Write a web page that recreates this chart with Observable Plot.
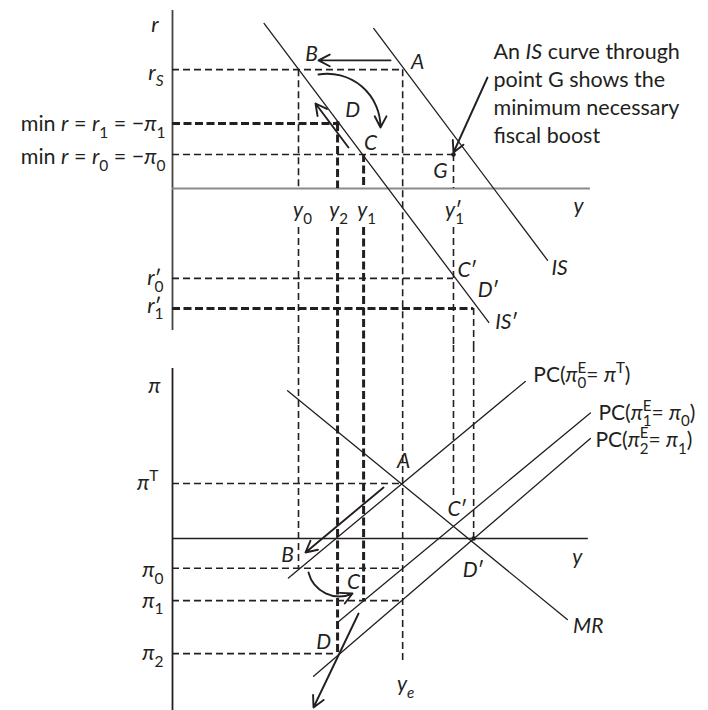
<!DOCTYPE html>
<html>
<head>
<meta charset="utf-8">
<script src="https://cdn.jsdelivr.net/npm/d3@7"></script>
<script src="https://cdn.jsdelivr.net/npm/@observablehq/plot@0.6"></script>
<style>
  body { margin: 0; background: #fff; }
  #chart { width: 708px; }
  #chart svg { display: block; }
</style>
</head>
<body>
<div id="chart"></div>
<script>
// ---- Output levels on the shared horizontal (y) axis ----
const y0 = 3.00, y2 = 3.93, y1 = 4.55, ye = 5.48, y1p = 6.69, yDp = 7.17;

// ---- Real interest rates (IS–MR top panel) ----
const rS = 2.83, r1 = 1.55, r0 = 0.81, r0p = -2.14, r1p = -2.86;

// ---- Inflation rates (PC–MR bottom panel) ----
const piT = 1.31, pi0 = -0.71, pi1 = -1.48, pi2 = -2.74, piC = 0.37;

// ---- Curves: end points of each straight line ----
const IS  = [[4.79, 3.81], [8.93, -1.71]];
const ISp = [[2.18, 3.93], [7.53, -3.19]];
const MR  = [[2.74, 3.52], [9.40, -1.93]];
const PC0 = [[2.76, -0.94], [8.40, 3.74]];
const PC1 = [[3.95, -1.98], [9.95, 2.99]];
const PC2 = [[3.36, -3.28], [9.95, 2.38]];

// ---- Adjustment arrows ----
const topArrows = [[5.19, 3.05, 3.476, 3.05], [4.19, 0.976, 3.405, 2.024], [7.50, 2.643, 6.69, 0.857]];
const topCurved = [[3.476, 2.714, 4.952, 1.452]];
const botArrows = [[5.024, 1.214, 3.167, -0.333], [4.43, -1.786, 3.357, -4.024]];
const botCurved = [[3.238, -0.81, 4.286, -1.31]];

// ---- Text ----
const note = ["An *IS* curve through", "point G shows the", "minimum necessary", "fiscal boost"];
const pcLabels = ["PC(*π*_{0}~{E}= *π*^{T})", "PC(*π*_{1}~{E}= *π*_{0})", "PC(*π*_{2}~{E}= *π*_{1})"];

// ---------------------------------------------------------------
const ink = "#231f20";
const W = 708, PX = 42, X0 = 172;          // 42 px per model unit, axes at x = 172
const topH = 345, topZero = 188;            // top panel height, r = 0 position
const botH = 365, botZero = 193;            // bottom panel height, π = 0 position
const topDom = [(topZero - topH) / PX, topZero / PX];
const botDom = [(botZero - botH) / PX, botZero / PX];
const gap = 39 / PX;                        // room under the axis for the y labels
const font = "Lato, 'Noto Sans', 'DejaVu Sans', sans-serif";

const thin = {stroke: ink, strokeWidth: 1.6, strokeDasharray: "7,4"};
const thick = {stroke: ink, strokeWidth: 3, strokeDasharray: "8,3.5"};
const solid = {stroke: ink, strokeWidth: 1.3};
const arrowStyle = {stroke: ink, strokeWidth: 1.9, headLength: 10, headAngle: 55};

const hRule = (data, style) => Plot.ruleY(data, {y: d => d[0], x1: d => d[2] ?? 0, x2: d => d[1], ...style});
const vRule = (data, style) => Plot.ruleX(data, {x: d => d[0], y1: d => d[1], y2: d => d[2], ...style});
const arrows = (data, bend) => Plot.arrow(data, {x1: d => d[0], y1: d => d[1], x2: d => d[2], y2: d => d[3], bend, ...arrowStyle});
const off = (v, px) => v + px / PX;          // shift a value by a pixel offset
const label = (data, opts) => Plot.text(data, {x: d => off(d[1], d[3] ?? 0), y: d => off(d[2], -(d[4] ?? 0)), text: d => d[0], fill: ink, ...opts});

const base = {
  width: W, marginLeft: X0, marginRight: W - X0 - 10 * PX, marginTop: 0, marginBottom: 0,
  x: {domain: [0, 10], axis: null},
  style: {fontFamily: font, color: ink, background: "#fff", overflow: "visible"}
};

// ---------------- Top panel: IS curves and interest rates ----------------
const topPanel = Plot.plot({
  ...base, height: topH,
  y: {domain: topDom, axis: null},
  marks: [
    // axes
    Plot.ruleX([0], {y1: () => -3.38, y2: () => 4.24, stroke: "#444", strokeWidth: 1.8}),
    Plot.ruleY([0], {x1: () => 0, x2: () => 9.95, stroke: "#8a8a8a", strokeWidth: 2}),
    // guide lines
    hRule([[rS, ye], [r0, y1p], [r0p, y1p]], thin),
    hRule([[r1, y2], [r1p, yDp]], thick),
    vRule([[y0, rS, 0], [y0, -gap, topDom[0]], [ye, rS, topDom[0]], [y1p, r0, 0], [y1p, -gap, topDom[0]], [yDp, r1p, topDom[0]]], thin),
    vRule([[y2, r1, 0], [y2, -gap, topDom[0]], [y1, r0, 0], [y1, -gap, topDom[0]]], thick),
    // curves
    Plot.line(IS, solid),
    Plot.line(ISp, solid),
    Plot.dot([[y1p, r0], [y2, r1]], {r: 2.3, fill: ink}),
    // arrows
    arrows(topArrows, 0),
    arrows(topCurved, 50),
    // left-hand labels
    label([["*r*", 0, 3.9, -14], ["*r*_{*S*}", 0, rS, -9, 3],
           ["min *r* = *r*_{1} = −*π*_{1}", 0, r1, -7, 1], ["min *r* = *r*_{0} = −*π*_{0}", 0, r0, -7, 3],
           ["*r*_{0}~{′}", 0, r0p, -9, 0], ["*r*_{1}~{′}", 0, r1p, -9, -3]],
          {textAnchor: "end", fontSize: 21.5}),
    // point and curve labels
    label([["*B*", y0, rS, 13, -15], ["*A*", ye, rS, 15, -7], ["*D*", y2, r1, 15, -13], ["*C*", y1, r0, 7, -11],
           ["*G*", y1p, r0, -13, 17], ["*C*′", y1p, r0p, 14, -8], ["*D*′", yDp, r1p, 15, -18],
           ["*y*_{0}", y0, 0, 4, 22], ["*y*_{2}", y2, 0, 1, 22], ["*y*_{1}", y1, 0, 3, 22], ["*y*_{1}~{′}", y1p, 0, 1, 22],
           ["*y*", 9.67, 0, 0, 18], ["*IS*", IS[1][0], IS[1][1], 12, 8], ["*IS*′", ISp[1][0], ISp[1][1], 18, 0]],
          {textAnchor: "middle", fontSize: 21}),
    // annotation
    Plot.text(note, {x: () => off(0, 493 - X0), y: (d, i) => off(0, topZero - 52 - 28 * i), text: d => d, textAnchor: "start", fontSize: 21.5, fill: ink})
  ]
});

// ---------------- Bottom panel: Phillips curves and MR ----------------
const bottomPanel = Plot.plot({
  ...base, height: botH,
  y: {domain: botDom, axis: null},
  marks: [
    Plot.ruleX([0], {y1: () => botDom[0], y2: () => 4.05, stroke: ink, strokeWidth: 1.8}),
    Plot.ruleY([0], {x1: () => 0, x2: () => 9.9, stroke: ink, strokeWidth: 1.4}),
    hRule([[piT, ye], [pi0, ye], [pi1, ye], [pi2, y2]], thin),
    vRule([[y0, botDom[1], pi0], [ye, botDom[1], -2.98], [y1p, botDom[1], 0.98], [yDp, botDom[1], 0]], thin),
    vRule([[y2, botDom[1], pi2], [y1, botDom[1], pi1]], thick),
    Plot.line(MR, solid),
    Plot.line(PC0, solid),
    Plot.line(PC1, solid),
    Plot.line(PC2, solid),
    Plot.dot([[yDp, 0]], {r: 2.3, fill: ink}),
    arrows(botArrows, 0),
    arrows(botCurved, -50),
    label([["*π*", 0, 3.62, -12], ["*π*^{T}", 0, piT, -14], ["*π*_{0}", 0, pi0, -9, 2],
           ["*π*_{1}", 0, pi1, -9], ["*π*_{2}", 0, pi2, -9]],
          {textAnchor: "end", fontSize: 21.5}),
    label([["*A*", ye, piT, 1, -22], ["*B*", y0, pi0, -11, -13], ["*C*", y1, pi1, -10, -18], ["*D*", y2, pi2, -14, -11],
           ["*C*′", y1p, piC, 4, -14], ["*D*′", yDp, 0, 0, 32], ["*y*", 9.64, 0, 0, 19],
           ["*MR*", MR[1][0], MR[1][1], 21, 7], ["*y*_{*e*}", ye, -2.98, 3, 21]],
          {textAnchor: "middle", fontSize: 21}),
    label(pcLabels.map((t, i) => [t, [PC0, PC1, PC2][i][1][0], [PC0, PC1, PC2][i][1][1], [8, 8, 5][i], [-6, 0, 2][i]]),
          {textAnchor: "start", fontSize: 21})
  ]
});

const chart = document.getElementById("chart");
chart.append(topPanel, bottomPanel);

// ---- Rich text: *italic*, _{subscript}, ^{superscript}, ~{superscript stacked over the subscript} ----
function parseRich(s) {
  const runs = [];
  let italic = false, shift = "base", stacked = false, buf = "";
  const flush = () => { if (buf) runs.push({text: buf, italic, shift, stacked}); buf = ""; };
  for (let i = 0; i < s.length; i++) {
    const c = s[i];
    if (c === "*") { flush(); italic = !italic; }
    else if ((c === "_" || c === "^" || c === "~") && s[i + 1] === "{") {
      flush(); shift = c === "_" ? "sub" : "sup"; stacked = c === "~"; i++;
    } else if (c === "}" && shift !== "base") { flush(); shift = "base"; stacked = false; }
    else buf += c;
  }
  flush();
  return runs;
}

function typeset(svg) {
  const ns = "http://www.w3.org/2000/svg";
  for (const t of svg.querySelectorAll("text")) {
    if (t.children.length) continue;
    const s = t.textContent;
    if (!/[*_^~]/.test(s)) continue;
    const fs = parseFloat(getComputedStyle(t).fontSize);
    t.textContent = "";
    let level = 0, prev = null;
    for (const run of parseRich(s)) {
      const ts = document.createElementNS(ns, "tspan");
      ts.textContent = run.text;
      ts.setAttribute("font-style", run.italic ? "italic" : "normal");
      // a prime stacked over a subscript keeps the full size on the main baseline
      const prime = run.stacked && run.text === "′";
      const shift = prime ? "base" : run.shift;
      const target = shift === "sub" ? 0.3 * fs : shift === "sup" ? -0.42 * fs : 0;
      if (shift !== "base") ts.setAttribute("font-size", 0.72 * fs);
      if (target !== level) { ts.setAttribute("dy", target - level); level = target; }
      t.appendChild(ts);
      if (run.stacked && prev) ts.setAttribute("dx", -prev.getComputedTextLength());
      prev = ts;
    }
  }
}
typeset(topPanel);
typeset(bottomPanel);
</script>
</body>
</html>
